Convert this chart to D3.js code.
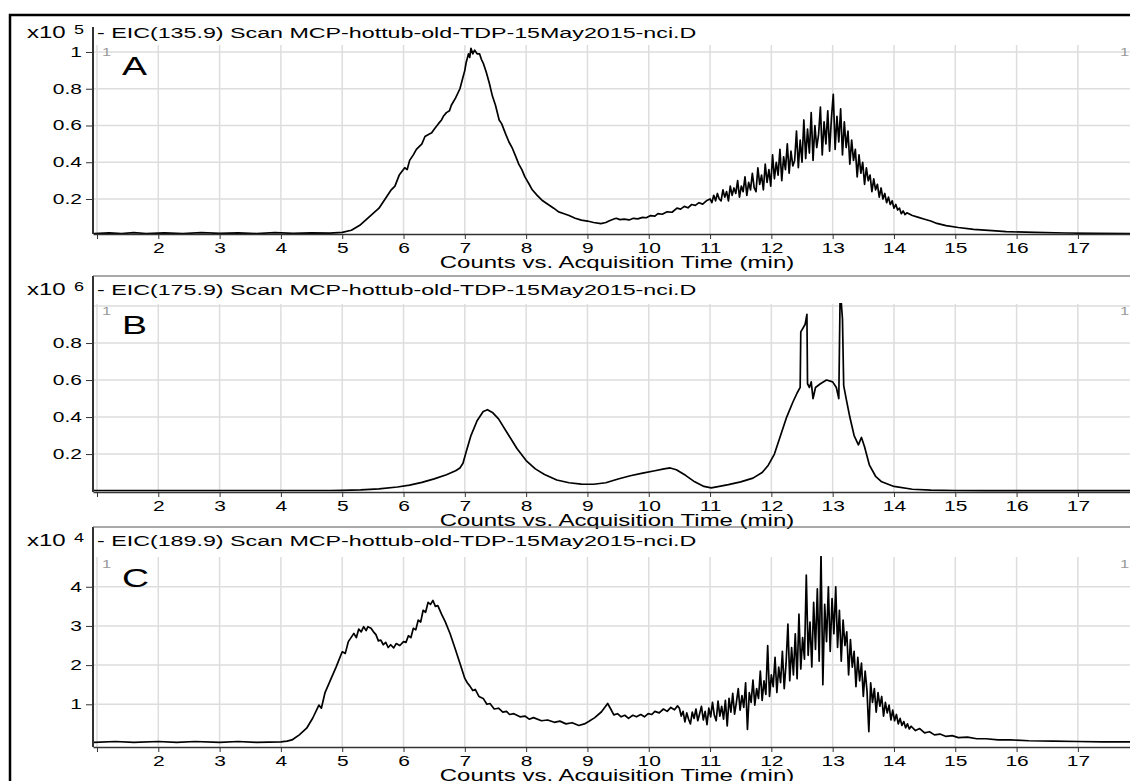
<!DOCTYPE html>
<html>
<head>
<meta charset="utf-8">
<script src="https://cdn.jsdelivr.net/npm/d3@7"></script>
<style>
body { margin: 0; background: #fff; }
svg { display: block; font-family: "Liberation Sans", Arial, sans-serif; }
</style>
</head>
<body>
<script>
var width = 1130, height = 781;

// minutes on the time axis (1 has a tick but no label)
const minutes = [1, 2, 3, 4, 5, 6, 7, 8, 9, 10, 11, 12, 13, 14, 15, 16, 17];

// y ticks per panel
const ticksA = [0.2, 0.4, 0.6, 0.8, 1];
const ticksB = [0.2, 0.4, 0.6, 0.8];
const gridB = [0.2, 0.4, 0.6, 0.8, 1];
const ticksC = [1, 2, 3, 4];

const titles = [
  "- EIC(135.9) Scan MCP-hottub-old-TDP-15May2015-nci.D",
  "- EIC(175.9) Scan MCP-hottub-old-TDP-15May2015-nci.D",
  "- EIC(189.9) Scan MCP-hottub-old-TDP-15May2015-nci.D"
];
const exponents = ["5", "6", "4"];
const letters = ["A", "B", "C"];
const xLabel = "Counts vs. Acquisition Time (min)";

// EIC 135.9, counts x10^5, [minutes, counts]
const traceA = [
  [0.95,0.012],[1.2,0.016],[1.4,0.012],[1.6,0.017],[1.8,0.012],[2.1,0.016],[2.4,0.012],[2.7,0.017],
  [3.0,0.013],[3.3,0.016],[3.6,0.012],[3.9,0.017],[4.2,0.013],[4.5,0.016],[4.8,0.014],[5.0,0.018],
  [5.15,0.03],[5.3,0.06],[5.5,0.12],[5.6,0.15],[5.7,0.2],[5.8,0.25],[5.86,0.27],[5.93,0.33],
  [6.02,0.37],[6.06,0.36],[6.1,0.41],[6.16,0.44],[6.21,0.47],[6.3,0.5],[6.35,0.54],[6.4,0.55],
  [6.46,0.56],[6.5,0.58],[6.57,0.61],[6.62,0.63],[6.65,0.65],[6.7,0.67],[6.75,0.68],[6.78,0.71],
  [6.85,0.75],[6.92,0.8],[6.96,0.85],[7.0,0.9],[7.02,0.94],[7.06,0.99],[7.08,0.97],[7.1,1.02],
  [7.13,0.99],[7.16,1.01],[7.2,0.99],[7.24,0.99],[7.27,0.96],[7.3,0.94],[7.35,0.89],[7.4,0.83],
  [7.45,0.76],[7.5,0.71],[7.56,0.63],[7.6,0.61],[7.67,0.55],[7.72,0.51],[7.77,0.48],[7.82,0.44],
  [7.88,0.39],[7.93,0.36],[7.98,0.32],[8.05,0.28],[8.1,0.25],[8.18,0.22],[8.27,0.19],[8.36,0.17],
  [8.45,0.15],[8.53,0.13],[8.62,0.12],[8.7,0.11],[8.8,0.095],[8.9,0.085],[9.0,0.08],[9.1,0.072],
  [9.22,0.066],[9.3,0.072],[9.35,0.08],[9.42,0.09],[9.47,0.095],[9.53,0.088],[9.6,0.09],[9.68,0.086],
  [9.75,0.095],[9.82,0.092],[9.9,0.1],[9.96,0.098],[10.03,0.11],[10.1,0.107],[10.15,0.12],[10.22,0.117],
  [10.3,0.13],[10.38,0.128],[10.46,0.15],[10.52,0.145],[10.58,0.16],[10.64,0.152],[10.7,0.17],[10.76,0.165],
  [10.82,0.18],[10.88,0.172],[10.94,0.19],
  [11.00,0.20],[11.03,0.18],[11.06,0.22],[11.09,0.19],[11.12,0.23],[11.15,0.20],[11.18,0.19],[11.21,0.25],
  [11.24,0.21],[11.27,0.24],[11.30,0.19],[11.33,0.27],[11.36,0.22],[11.39,0.26],[11.42,0.23],[11.45,0.30],
  [11.48,0.21],[11.51,0.27],[11.54,0.24],[11.57,0.32],[11.60,0.22],[11.63,0.29],[11.66,0.25],[11.69,0.34],
  [11.72,0.26],[11.75,0.24],[11.78,0.37],[11.81,0.28],[11.84,0.33],[11.87,0.25],[11.90,0.39],[11.93,0.29],
  [11.96,0.36],[11.99,0.27],[12.02,0.44],[12.05,0.31],[12.08,0.40],[12.11,0.33],[12.14,0.47],[12.17,0.30],
  [12.20,0.43],[12.23,0.36],[12.26,0.50],[12.29,0.34],[12.32,0.46],[12.35,0.38],[12.38,0.41],[12.41,0.57],
  [12.44,0.37],[12.47,0.52],[12.50,0.40],[12.53,0.63],[12.56,0.42],[12.59,0.58],[12.62,0.45],[12.65,0.67],
  [12.68,0.41],[12.71,0.60],[12.74,0.48],[12.77,0.55],[12.80,0.70],[12.83,0.44],[12.86,0.62],[12.89,0.50],
  [12.92,0.68],[12.95,0.46],[12.98,0.64],[13.01,0.77],[13.04,0.47],[13.07,0.65],[13.10,0.51],[13.13,0.69],
  [13.16,0.44],[13.19,0.62],[13.22,0.48],[13.25,0.57],[13.28,0.39],[13.31,0.52],[13.34,0.41],[13.37,0.47],
  [13.40,0.32],[13.43,0.44],[13.46,0.34],[13.49,0.40],[13.52,0.28],[13.55,0.37],[13.58,0.30],[13.61,0.33],
  [13.64,0.24],[13.67,0.31],[13.70,0.25],[13.73,0.28],[13.76,0.21],[13.79,0.26],[13.82,0.20],[13.85,0.23],
  [13.88,0.18],[13.91,0.21],[13.94,0.17],[13.97,0.19],[14.00,0.15],[14.03,0.17],[14.06,0.14],[14.09,0.15],
  [14.12,0.12],[14.15,0.135],[14.18,0.115],[14.21,0.125],
  [14.3,0.11],[14.4,0.10],[14.5,0.09],[14.6,0.08],[14.7,0.067],[14.85,0.055],[15.05,0.045],
  [15.3,0.035],[15.6,0.028],[15.83,0.022],[16.3,0.018],[16.8,0.015],[17.3,0.013],[17.9,0.012]
];

// EIC 175.9, counts x10^6
const traceB = [
  [0.95,0.003],[3.0,0.003],[4.8,0.003],[5.0,0.004],[5.3,0.006],[5.6,0.012],[5.9,0.022],[6.1,0.032],
  [6.3,0.047],[6.5,0.066],[6.7,0.088],[6.85,0.11],[6.92,0.125],[6.97,0.15],[7.02,0.21],[7.1,0.30],
  [7.2,0.38],[7.3,0.43],[7.37,0.44],[7.45,0.425],[7.55,0.39],[7.7,0.31],[7.85,0.23],[8.0,0.165],
  [8.15,0.12],[8.3,0.09],[8.5,0.06],[8.7,0.045],[8.9,0.038],[9.1,0.037],[9.3,0.045],[9.5,0.065],
  [9.7,0.083],[9.9,0.097],[10.1,0.11],[10.25,0.12],[10.35,0.125],[10.45,0.115],[10.6,0.085],[10.75,0.05],
  [10.9,0.025],[11.02,0.017],[11.15,0.025],[11.3,0.035],[11.5,0.05],[11.7,0.07],[11.85,0.1],[11.95,0.14],
  [12.05,0.2],[12.15,0.3],[12.25,0.4],[12.35,0.48],[12.42,0.53],[12.47,0.56],[12.48,0.86],[12.55,0.9],
  [12.58,0.955],[12.59,0.58],[12.62,0.56],[12.65,0.59],[12.68,0.5],[12.72,0.56],[12.8,0.58],[12.9,0.6],
  [13.0,0.59],[13.06,0.56],[13.1,0.5],[13.12,1.02],[13.14,1.02],[13.16,0.93],[13.18,0.57],[13.22,0.5],
  [13.28,0.4],[13.35,0.3],[13.42,0.25],[13.47,0.29],[13.52,0.24],[13.6,0.14],[13.7,0.08],[13.8,0.05],
  [14.0,0.025],[14.3,0.01],[14.6,0.005],[15.0,0.003],[15.5,0.002],[17.9,0.002]
];

// EIC 189.9, counts x10^4
const traceC = [
  [0.95,0.03],[1.3,0.05],[1.6,0.03],[2.0,0.05],[2.3,0.03],[2.6,0.05],[3.0,0.03],[3.3,0.05],
  [3.6,0.03],[4.0,0.04],[4.1,0.06],[4.18,0.09],[4.3,0.22],[4.42,0.39],[4.52,0.65],[4.62,0.98],
  [4.66,0.9],[4.72,1.3],[4.82,1.66],[4.9,1.95],[5.0,2.34],[5.05,2.3],[5.1,2.6],[5.19,2.81],
  [5.23,2.7],[5.27,2.92],[5.31,2.85],[5.35,2.98],[5.39,2.88],[5.42,2.98],[5.47,2.94],[5.51,2.85],
  [5.55,2.78],[5.59,2.62],[5.63,2.64],[5.67,2.52],[5.71,2.58],[5.75,2.45],[5.79,2.52],[5.84,2.44],
  [5.88,2.55],[5.94,2.5],[6.0,2.6],[6.04,2.58],[6.08,2.75],[6.12,2.7],[6.16,2.94],[6.2,2.9],
  [6.24,3.15],[6.28,3.1],[6.32,3.4],[6.36,3.35],[6.4,3.6],[6.44,3.55],[6.48,3.65],[6.52,3.5],
  [6.56,3.52],[6.62,3.3],[6.68,3.11],[6.76,2.8],[6.84,2.43],[6.92,2.05],[7.0,1.66],[7.04,1.55],
  [7.08,1.47],[7.13,1.35],[7.17,1.38],[7.23,1.2],[7.3,1.15],[7.36,1.0],[7.41,1.02],[7.48,0.88],
  [7.55,0.9],[7.62,0.8],[7.68,0.82],[7.73,0.74],[7.8,0.76],[7.9,0.68],[7.98,0.7],[8.05,0.62],
  [8.12,0.66],[8.25,0.58],[8.35,0.6],[8.46,0.54],[8.55,0.57],[8.65,0.5],[8.75,0.53],[8.86,0.46],
  [8.95,0.5],[9.02,0.56],[9.12,0.66],[9.23,0.81],[9.33,1.02],[9.38,0.88],[9.43,0.73],[9.49,0.76],
  [9.55,0.68],[9.61,0.72],[9.67,0.64],[9.74,0.72],[9.8,0.68],[9.87,0.74],[9.93,0.68],[9.99,0.76],
  [10.05,0.74],[10.1,0.82],[10.17,0.78],[10.24,0.88],[10.3,0.82],[10.36,0.92],[10.42,0.86],[10.47,0.96],
  [10.50,0.90],[10.53,0.70],[10.56,0.82],[10.59,0.55],[10.62,0.78],[10.65,0.62],[10.68,0.50],[10.71,0.80],
  [10.74,0.64],[10.77,0.88],[10.80,0.58],[10.83,0.76],[10.86,0.95],[10.89,0.60],[10.92,0.82],[10.95,0.48],
  [10.98,0.90],[11.01,0.68],[11.04,1.05],[11.07,0.72],[11.10,0.58],[11.13,1.08],[11.16,0.70],[11.19,0.95],
  [11.22,0.62],[11.25,1.10],[11.28,0.45],[11.31,1.15],[11.34,0.80],[11.37,1.28],[11.40,0.75],[11.43,1.05],
  [11.46,1.40],[11.49,0.85],[11.52,1.22],[11.55,0.92],[11.58,1.55],[11.61,0.36],[11.64,1.30],[11.67,1.05],
  [11.70,1.62],[11.73,0.98],[11.76,1.40],[11.79,1.15],[11.82,1.85],[11.85,1.10],[11.88,1.60],[11.91,1.25],
  [11.94,2.50],[11.97,1.20],[12.00,1.75],[12.03,1.45],[12.06,2.20],[12.09,1.30],[12.12,1.95],[12.15,1.55],
  [12.18,2.35],[12.21,1.40],[12.24,2.05],[12.27,3.05],[12.30,1.60],[12.33,2.45],[12.36,1.75],[12.39,2.80],
  [12.42,1.65],[12.45,3.30],[12.48,1.90],[12.51,2.70],[12.54,2.15],[12.57,4.30],[12.60,2.25],[12.63,3.10],
  [12.66,1.95],[12.69,3.60],[12.72,2.40],[12.75,3.95],[12.78,2.10],[12.81,4.85],[12.84,1.50],[12.87,3.55],
  [12.90,2.60],[12.93,4.00],[12.96,2.35],[12.99,3.70],[13.02,2.80],[13.05,4.00],[13.08,2.45],[13.11,3.40],
  [13.14,2.10],[13.17,3.15],[13.20,2.50],[13.23,2.85],[13.26,1.75],[13.29,2.65],[13.32,1.95],[13.35,2.35],
  [13.38,1.45],[13.41,2.20],[13.44,1.60],[13.47,2.05],[13.50,1.20],[13.53,1.85],[13.56,1.35],[13.59,0.30],
  [13.62,1.55],[13.65,1.05],[13.68,1.40],[13.71,0.80],[13.74,1.30],[13.77,0.95],[13.80,1.20],[13.83,0.70],
  [13.86,1.05],[13.89,0.78],[13.92,0.98],[13.95,0.60],[13.98,0.85],[14.01,0.58],[14.04,0.74],[14.07,0.50],
  [14.10,0.64],[14.13,0.46],[14.16,0.56],[14.19,0.40],[14.22,0.50],[14.25,0.37],[14.28,0.44],[14.35,0.33],
  [14.42,0.38],[14.5,0.27],[14.58,0.3],[14.66,0.22],[14.75,0.24],[14.85,0.18],[14.95,0.2],[15.05,0.15],
  [15.2,0.16],[15.35,0.12],[15.5,0.12],[15.7,0.09],[15.9,0.09],[16.2,0.07],[16.6,0.06],[17.0,0.05],
  [17.4,0.04],[17.9,0.04]
];

// layout of the three stacked panels
const panels = [
  { trace: traceA, ticks: ticksA, grid: ticksA, yDomain: [0.0095, 1.038], boxTop: 27, plotTop: 45, axisY: 234, titleY: 38, letterY: 75, topLine: false },
  { trace: traceB, ticks: ticksB, grid: gridB, yDomain: [-0.005, 1.011], boxTop: 276, plotTop: 304, axisY: 492, titleY: 295, letterY: 334, topLine: true },
  { trace: traceC, ticks: ticksC, grid: ticksC, yDomain: [-0.09, 4.76], boxTop: 527, plotTop: 557, axisY: 747, titleY: 546, letterY: 587, topLine: true }
];

const left = 93, right = width;
const sx = 1.5; // text in the original is stretched horizontally

var svg = d3.select('body').append('svg').attr('width', width).attr('height', height);

var x = d3.scaleLinear().domain([0.935, 17.85]).range([left, right]);

// outer frame
svg.append('rect').attr('x', 10).attr('y', 15).attr('width', 1300).attr('height', 900)
  .attr('fill', 'none').attr('stroke', '#000').attr('stroke-width', 2.5);

function stretchedText(g, px, py, txt, size, anchor) {
  return g.append('text')
    .attr('transform', 'translate(' + px + ',' + py + ') scale(' + sx + ',1)')
    .attr('text-anchor', anchor || 'start')
    .attr('font-size', size)
    .attr('fill', '#000')
    .text(txt);
}

panels.forEach(function(p, i) {
  var g = svg.append('g');
  var y = d3.scaleLinear().domain(p.yDomain).range([p.axisY, p.plotTop]);

  // grid
  g.append('g').selectAll('line').data(minutes).join('line')
    .attr('x1', d => x(d)).attr('x2', d => x(d))
    .attr('y1', p.plotTop).attr('y2', p.axisY)
    .attr('stroke', '#dddddd').attr('stroke-width', 1.5);
  g.append('g').selectAll('line').data(p.grid).join('line')
    .attr('x1', left).attr('x2', right)
    .attr('y1', d => y(d)).attr('y2', d => y(d))
    .attr('stroke', '#dddddd').attr('stroke-width', 1.5);

  // trace
  var clipId = 'clip' + i;
  svg.append('clipPath').attr('id', clipId).append('rect')
    .attr('x', left).attr('y', p.plotTop - 1).attr('width', right - left).attr('height', p.axisY - p.plotTop + 1);
  var line = d3.line().x(d => x(d[0])).y(d => y(d[1]));
  g.append('path').datum(p.trace)
    .attr('clip-path', 'url(#' + clipId + ')')
    .attr('d', line)
    .attr('fill', 'none').attr('stroke', '#000').attr('stroke-width', 1.7)
    .attr('stroke-linejoin', 'round');

  // x axis
  var xAxis = g.append('g').attr('transform', 'translate(0,' + p.axisY + ')')
    .call(d3.axisBottom(x).tickValues(minutes).tickSize(5).tickSizeOuter(0).tickPadding(4)
      .tickFormat(d => d === 1 ? '' : d));
  xAxis.attr('color', '#333').attr('font-family', null).attr('font-size', null);
  xAxis.select('.domain').attr('stroke-width', 1.5);
  xAxis.selectAll('text').attr('font-size', 14).attr('fill', '#000')
    .attr('transform', 'scale(' + sx + ',1)');

  // y axis
  var yAxis = g.append('g').attr('transform', 'translate(' + left + ',0)')
    .call(d3.axisLeft(y).tickValues(p.ticks).tickSize(7).tickFormat(d3.format('~g')));
  yAxis.attr('color', '#333').attr('font-family', null).attr('font-size', null);
  yAxis.select('.domain').remove();
  yAxis.selectAll('text').attr('font-size', 14).attr('fill', '#000')
    .attr('x', -11 / sx).attr('transform', 'scale(' + sx + ',1)');

  // panel frame
  g.append('line').attr('x1', left).attr('x2', left).attr('y1', p.boxTop).attr('y2', p.axisY)
    .attr('stroke', '#333').attr('stroke-width', 2);
  if (p.topLine) {
    g.append('line').attr('x1', left).attr('x2', right).attr('y1', p.boxTop).attr('y2', p.boxTop)
      .attr('stroke', '#555').attr('stroke-width', 1.2);
  }

  // texts
  stretchedText(g, 97, p.titleY, titles[i], 15.5);
  stretchedText(g, 27, p.titleY, 'x10', 16);
  stretchedText(g, 74, p.titleY - 4, exponents[i], 12);
  stretchedText(g, 122, p.letterY, letters[i], 25);
  stretchedText(g, 617, p.axisY + 34, xLabel, 16, 'middle');
  stretchedText(g, 102, p.plotTop + 11, '1', 11).attr('fill', '#999');
  stretchedText(g, 1120, p.plotTop + 11, '1', 11).attr('fill', '#999');
});

console.log('ready..');
</script>
</body>
</html>
